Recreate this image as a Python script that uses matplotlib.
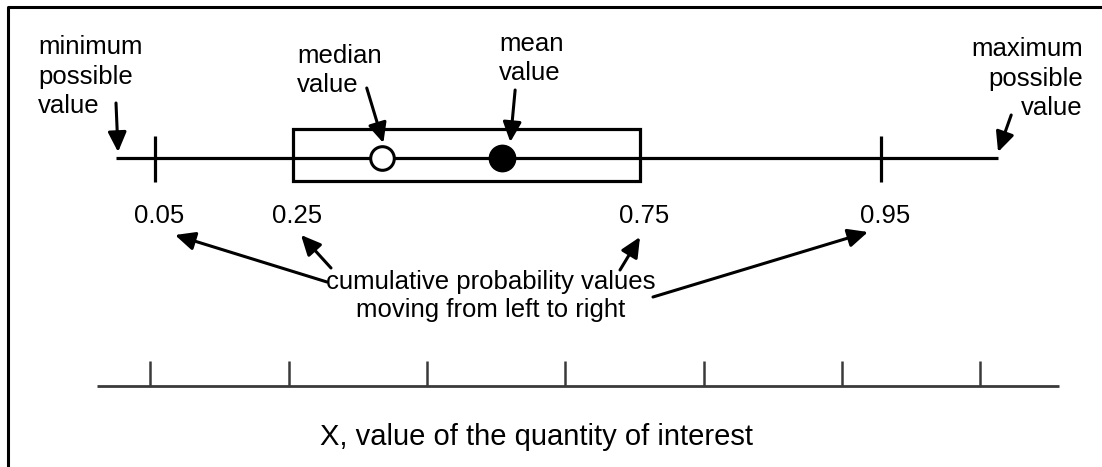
import matplotlib.pyplot as plt
from matplotlib.lines import Line2D
from matplotlib.patches import Rectangle

plt.rcParams['font.family'] = ['Liberation Sans', 'DejaVu Sans']

#### values (x in "quantity" units, bottom axis ticks sit at 1..7)
axis_ticks = [1, 2, 3, 4, 5, 6, 7]
axis_range = [0.615, 7.570]
range_ends = [0.752, 7.130]          # minimum / maximum possible value
pct_labels = ['0.05', '0.25', '0.75', '0.95']
pct_values = [1.034, 2.032, 4.541, 6.284]
median_val = 2.675
mean_val = 3.543

W, H = 1102, 467
fig = plt.figure(figsize=(W / 100, H / 100), dpi=100)
ax = fig.add_axes([0, 0, 1, 1])


def px(p):  # pixel column -> value units (only used to place annotations)
    return (p - 150.3) / 138.3 + 1


ax.set_xlim(px(0), px(W))
ax.set_ylim(H, 0)   # y in pixel rows from the top
ax.axis('off')

fs = 18.5
lsp = 1.28
lw = 2.3
ycen = 158

## upper diagram: range line, 5/95 ticks, 25-75 box, median and mean
ax.hlines(ycen, range_ends[0], range_ends[1], color='k', lw=lw)
ax.vlines([pct_values[0], pct_values[3]], 136, 182, color='k', lw=lw)
ax.add_patch(Rectangle((pct_values[1], 129), pct_values[2] - pct_values[1], 52,
                       fill=False, ec='k', lw=lw))
ax.plot(median_val, ycen, 'o', ms=17, mfc='white', mec='k', mew=2.2, zorder=5)
ax.plot(mean_val, ycen, 'o', ms=19, mfc='k', mec='k', mew=1.0, zorder=5)

## percentile labels
for lab, v in zip(pct_labels, pct_values):
    ax.text(v + 0.03, 216, lab, fontsize=fs, ha='center', va='center')

arr = dict(arrowstyle='-|>,head_length=0.6,head_width=0.28', color='k',
           lw=2.2, mutation_scale=20, shrinkA=0, shrinkB=0)

## top annotations (va='baseline' -> last line's baseline)
ax.text(px(38), 113, 'minimum\npossible\nvalue', fontsize=fs, ha='left',
        va='baseline', linespacing=lsp)
ax.annotate('', xy=(range_ends[0] + 0.015, 152), xytext=(range_ends[0], 103),
            arrowprops=arr)
ax.text(px(1083), 115, 'maximum\npossible\nvalue', fontsize=fs, ha='right',
        va='baseline', linespacing=lsp)
ax.annotate('', xy=(range_ends[1], 152), xytext=(range_ends[1] + 0.095, 115),
            arrowprops=arr)
ax.text(px(297), 92, 'median\nvalue', fontsize=fs, ha='left', va='baseline',
        linespacing=lsp)
ax.annotate('', xy=(median_val + 0.01, 143), xytext=(median_val - 0.11, 88),
            arrowprops=arr)
ax.text(px(499), 80, 'mean\nvalue', fontsize=fs, ha='left', va='baseline',
        linespacing=lsp)
ax.annotate('', xy=(mean_val + 0.06, 142), xytext=(mean_val + 0.095, 90),
            arrowprops=arr)

## cumulative probability note
ax.text(px(491), 317, 'cumulative probability values\nmoving from left to right',
        fontsize=fs, ha='center', va='baseline', linespacing=1.2)
tails = [(327, 282), (331, 268), (620, 270), (653, 297)]
tips = [(175, 235), (301, 235), (640, 237), (868, 232)]
for (tx, ty), (hx, hy) in zip(tails, tips):
    ax.annotate('', xy=(px(hx), hy), xytext=(px(tx), ty), arrowprops=arr)

## bottom value axis
ax.hlines(386, axis_range[0], axis_range[1], color='#3a3a3a', lw=2.0)
ax.vlines(axis_ticks, 361, 386, color='#3a3a3a', lw=1.8)
ax.text(px(537), 445, 'X, value of the quantity of interest', fontsize=21,
        ha='center', va='baseline')

## frame (left and top edges visible)
fig.add_artist(Line2D([8 / W, 8 / W, 1], [0, 1 - 7 / H, 1 - 7 / H],
                      transform=fig.transFigure, color='k', lw=2.2))

fig.savefig('out.png', dpi=100)
